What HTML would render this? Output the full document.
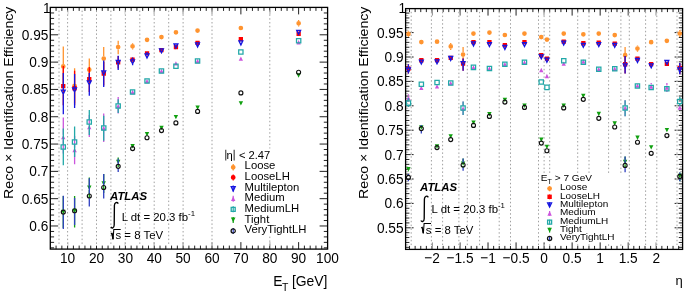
<!DOCTYPE html>
<html><head><meta charset="utf-8"><title>Reco x Identification Efficiency</title>
<style>
html,body{margin:0;padding:0;background:#fff;width:685px;height:294px;overflow:hidden}
svg{display:block;will-change:transform}
svg text{font-family:"Liberation Sans", sans-serif;fill:#000}
</style></head><body>
<svg width="685" height="294" viewBox="0 0 685 294">
<rect x="0" y="0" width="685" height="294" fill="#fff"/>
<path d="M405.60 10.64L408.20 10.64M682.60 10.64L680.00 10.64M405.60 15.52L408.20 15.52M682.60 15.52L680.00 15.52M405.60 20.40L408.20 20.40M682.60 20.40L680.00 20.40M405.60 25.28L408.20 25.28M682.60 25.28L680.00 25.28M405.60 30.16L408.20 30.16M682.60 30.16L680.00 30.16M405.60 35.04L408.20 35.04M682.60 35.04L680.00 35.04M405.60 39.92L408.20 39.92M682.60 39.92L680.00 39.92M405.60 44.80L408.20 44.80M682.60 44.80L680.00 44.80M405.60 49.68L408.20 49.68M682.60 49.68L680.00 49.68M405.60 54.56L408.20 54.56M682.60 54.56L680.00 54.56M405.60 59.44L408.20 59.44M682.60 59.44L680.00 59.44M405.60 64.32L408.20 64.32M682.60 64.32L680.00 64.32M405.60 69.20L408.20 69.20M682.60 69.20L680.00 69.20M405.60 74.08L408.20 74.08M682.60 74.08L680.00 74.08M405.60 78.96L408.20 78.96M682.60 78.96L680.00 78.96M405.60 83.84L408.20 83.84M682.60 83.84L680.00 83.84M405.60 88.72L408.20 88.72M682.60 88.72L680.00 88.72M405.60 93.60L408.20 93.60M682.60 93.60L680.00 93.60M405.60 98.48L408.20 98.48M682.60 98.48L680.00 98.48M405.60 103.36L408.20 103.36M682.60 103.36L680.00 103.36M405.60 108.24L408.20 108.24M682.60 108.24L680.00 108.24M405.60 113.12L408.20 113.12M682.60 113.12L680.00 113.12M405.60 118.00L408.20 118.00M682.60 118.00L680.00 118.00M405.60 122.88L408.20 122.88M682.60 122.88L680.00 122.88M405.60 127.76L408.20 127.76M682.60 127.76L680.00 127.76M405.60 132.64L408.20 132.64M682.60 132.64L680.00 132.64M405.60 137.52L408.20 137.52M682.60 137.52L680.00 137.52M405.60 142.40L408.20 142.40M682.60 142.40L680.00 142.40M405.60 147.28L408.20 147.28M682.60 147.28L680.00 147.28M405.60 152.16L408.20 152.16M682.60 152.16L680.00 152.16M405.60 157.04L408.20 157.04M682.60 157.04L680.00 157.04M405.60 161.92L408.20 161.92M682.60 161.92L680.00 161.92M405.60 166.80L408.20 166.80M682.60 166.80L680.00 166.80M405.60 171.68L408.20 171.68M682.60 171.68L680.00 171.68M405.60 176.56L408.20 176.56M682.60 176.56L680.00 176.56M405.60 181.44L408.20 181.44M682.60 181.44L680.00 181.44M405.60 186.32L408.20 186.32M682.60 186.32L680.00 186.32M405.60 191.20L408.20 191.20M682.60 191.20L680.00 191.20M405.60 196.08L408.20 196.08M682.60 196.08L680.00 196.08M405.60 200.96L408.20 200.96M682.60 200.96L680.00 200.96M405.60 205.84L408.20 205.84M682.60 205.84L680.00 205.84M405.60 210.72L408.20 210.72M682.60 210.72L680.00 210.72M405.60 215.60L408.20 215.60M682.60 215.60L680.00 215.60M405.60 220.48L408.20 220.48M682.60 220.48L680.00 220.48M405.60 225.36L408.20 225.36M682.60 225.36L680.00 225.36M405.60 230.24L408.20 230.24M682.60 230.24L680.00 230.24M405.60 235.12L408.20 235.12M682.60 235.12L680.00 235.12M405.60 240.00L408.20 240.00M682.60 240.00L680.00 240.00M405.60 244.88L408.20 244.88M682.60 244.88L680.00 244.88" stroke="#aaa" stroke-width="0.9" fill="none"/>
<path d="M56.07 249.10L56.07 245.60M56.07 7.40L56.07 10.90M61.85 249.10L61.85 245.60M61.85 7.40L61.85 10.90M67.62 249.10L67.62 242.10M67.62 7.40L67.62 14.40M73.40 249.10L73.40 245.60M73.40 7.40L73.40 10.90M79.17 249.10L79.17 245.60M79.17 7.40L79.17 10.90M84.95 249.10L84.95 245.60M84.95 7.40L84.95 10.90M90.72 249.10L90.72 245.60M90.72 7.40L90.72 10.90M96.50 249.10L96.50 242.10M96.50 7.40L96.50 14.40M102.28 249.10L102.28 245.60M102.28 7.40L102.28 10.90M108.05 249.10L108.05 245.60M108.05 7.40L108.05 10.90M113.83 249.10L113.83 245.60M113.83 7.40L113.83 10.90M119.60 249.10L119.60 245.60M119.60 7.40L119.60 10.90M125.38 249.10L125.38 242.10M125.38 7.40L125.38 14.40M131.15 249.10L131.15 245.60M131.15 7.40L131.15 10.90M136.93 249.10L136.93 245.60M136.93 7.40L136.93 10.90M142.70 249.10L142.70 245.60M142.70 7.40L142.70 10.90M148.48 249.10L148.48 245.60M148.48 7.40L148.48 10.90M154.25 249.10L154.25 242.10M154.25 7.40L154.25 14.40M160.03 249.10L160.03 245.60M160.03 7.40L160.03 10.90M165.80 249.10L165.80 245.60M165.80 7.40L165.80 10.90M171.57 249.10L171.57 245.60M171.57 7.40L171.57 10.90M177.35 249.10L177.35 245.60M177.35 7.40L177.35 10.90M183.12 249.10L183.12 242.10M183.12 7.40L183.12 14.40M188.90 249.10L188.90 245.60M188.90 7.40L188.90 10.90M194.68 249.10L194.68 245.60M194.68 7.40L194.68 10.90M200.45 249.10L200.45 245.60M200.45 7.40L200.45 10.90M206.23 249.10L206.23 245.60M206.23 7.40L206.23 10.90M212.00 249.10L212.00 242.10M212.00 7.40L212.00 14.40M217.78 249.10L217.78 245.60M217.78 7.40L217.78 10.90M223.55 249.10L223.55 245.60M223.55 7.40L223.55 10.90M229.32 249.10L229.32 245.60M229.32 7.40L229.32 10.90M235.10 249.10L235.10 245.60M235.10 7.40L235.10 10.90M240.88 249.10L240.88 242.10M240.88 7.40L240.88 14.40M246.65 249.10L246.65 245.60M246.65 7.40L246.65 10.90M252.43 249.10L252.43 245.60M252.43 7.40L252.43 10.90M258.20 249.10L258.20 245.60M258.20 7.40L258.20 10.90M263.98 249.10L263.98 245.60M263.98 7.40L263.98 10.90M269.75 249.10L269.75 242.10M269.75 7.40L269.75 14.40M275.53 249.10L275.53 245.60M275.53 7.40L275.53 10.90M281.30 249.10L281.30 245.60M281.30 7.40L281.30 10.90M287.07 249.10L287.07 245.60M287.07 7.40L287.07 10.90M292.85 249.10L292.85 245.60M292.85 7.40L292.85 10.90M298.62 249.10L298.62 242.10M298.62 7.40L298.62 14.40M304.40 249.10L304.40 245.60M304.40 7.40L304.40 10.90M310.18 249.10L310.18 245.60M310.18 7.40L310.18 10.90M315.95 249.10L315.95 245.60M315.95 7.40L315.95 10.90M321.73 249.10L321.73 245.60M321.73 7.40L321.73 10.90M50.30 247.83L54.10 247.83M327.60 247.83L323.80 247.83M50.30 242.37L54.10 242.37M327.60 242.37L323.80 242.37M50.30 236.90L54.10 236.90M327.60 236.90L323.80 236.90M50.30 231.44L54.10 231.44M327.60 231.44L323.80 231.44M50.30 225.98L58.30 225.98M327.60 225.98L319.60 225.98M50.30 220.52L54.10 220.52M327.60 220.52L323.80 220.52M50.30 215.06L54.10 215.06M327.60 215.06L323.80 215.06M50.30 209.59L54.10 209.59M327.60 209.59L323.80 209.59M50.30 204.13L54.10 204.13M327.60 204.13L323.80 204.13M50.30 198.67L58.30 198.67M327.60 198.67L319.60 198.67M50.30 193.21L54.10 193.21M327.60 193.21L323.80 193.21M50.30 187.75L54.10 187.75M327.60 187.75L323.80 187.75M50.30 182.28L54.10 182.28M327.60 182.28L323.80 182.28M50.30 176.82L54.10 176.82M327.60 176.82L323.80 176.82M50.30 171.36L58.30 171.36M327.60 171.36L319.60 171.36M50.30 165.90L54.10 165.90M327.60 165.90L323.80 165.90M50.30 160.44L54.10 160.44M327.60 160.44L323.80 160.44M50.30 154.97L54.10 154.97M327.60 154.97L323.80 154.97M50.30 149.51L54.10 149.51M327.60 149.51L323.80 149.51M50.30 144.05L58.30 144.05M327.60 144.05L319.60 144.05M50.30 138.59L54.10 138.59M327.60 138.59L323.80 138.59M50.30 133.13L54.10 133.13M327.60 133.13L323.80 133.13M50.30 127.66L54.10 127.66M327.60 127.66L323.80 127.66M50.30 122.20L54.10 122.20M327.60 122.20L323.80 122.20M50.30 116.74L58.30 116.74M327.60 116.74L319.60 116.74M50.30 111.28L54.10 111.28M327.60 111.28L323.80 111.28M50.30 105.82L54.10 105.82M327.60 105.82L323.80 105.82M50.30 100.35L54.10 100.35M327.60 100.35L323.80 100.35M50.30 94.89L54.10 94.89M327.60 94.89L323.80 94.89M50.30 89.43L58.30 89.43M327.60 89.43L319.60 89.43M50.30 83.97L54.10 83.97M327.60 83.97L323.80 83.97M50.30 78.51L54.10 78.51M327.60 78.51L323.80 78.51M50.30 73.04L54.10 73.04M327.60 73.04L323.80 73.04M50.30 67.58L54.10 67.58M327.60 67.58L323.80 67.58M50.30 62.12L58.30 62.12M327.60 62.12L319.60 62.12M50.30 56.66L54.10 56.66M327.60 56.66L323.80 56.66M50.30 51.20L54.10 51.20M327.60 51.20L323.80 51.20M50.30 45.73L54.10 45.73M327.60 45.73L323.80 45.73M50.30 40.27L54.10 40.27M327.60 40.27L323.80 40.27M50.30 34.81L58.30 34.81M327.60 34.81L319.60 34.81M50.30 29.35L54.10 29.35M327.60 29.35L323.80 29.35M50.30 23.89L54.10 23.89M327.60 23.89L323.80 23.89M50.30 18.42L54.10 18.42M327.60 18.42L323.80 18.42M50.30 12.96L54.10 12.96M327.60 12.96L323.80 12.96M409.53 249.40L409.53 245.90M409.53 8.60L409.53 12.10M415.14 249.40L415.14 245.90M415.14 8.60L415.14 12.10M420.75 249.40L420.75 245.90M420.75 8.60L420.75 12.10M426.35 249.40L426.35 245.90M426.35 8.60L426.35 12.10M431.96 249.40L431.96 242.40M431.96 8.60L431.96 15.60M437.57 249.40L437.57 245.90M437.57 8.60L437.57 12.10M443.17 249.40L443.17 245.90M443.17 8.60L443.17 12.10M448.78 249.40L448.78 245.90M448.78 8.60L448.78 12.10M454.39 249.40L454.39 245.90M454.39 8.60L454.39 12.10M460.00 249.40L460.00 242.40M460.00 8.60L460.00 15.60M465.60 249.40L465.60 245.90M465.60 8.60L465.60 12.10M471.21 249.40L471.21 245.90M471.21 8.60L471.21 12.10M476.82 249.40L476.82 245.90M476.82 8.60L476.82 12.10M482.42 249.40L482.42 245.90M482.42 8.60L482.42 12.10M488.03 249.40L488.03 242.40M488.03 8.60L488.03 15.60M493.64 249.40L493.64 245.90M493.64 8.60L493.64 12.10M499.24 249.40L499.24 245.90M499.24 8.60L499.24 12.10M504.85 249.40L504.85 245.90M504.85 8.60L504.85 12.10M510.46 249.40L510.46 245.90M510.46 8.60L510.46 12.10M516.07 249.40L516.07 242.40M516.07 8.60L516.07 15.60M521.67 249.40L521.67 245.90M521.67 8.60L521.67 12.10M527.28 249.40L527.28 245.90M527.28 8.60L527.28 12.10M532.89 249.40L532.89 245.90M532.89 8.60L532.89 12.10M538.49 249.40L538.49 245.90M538.49 8.60L538.49 12.10M544.10 249.40L544.10 242.40M544.10 8.60L544.10 15.60M549.71 249.40L549.71 245.90M549.71 8.60L549.71 12.10M555.31 249.40L555.31 245.90M555.31 8.60L555.31 12.10M560.92 249.40L560.92 245.90M560.92 8.60L560.92 12.10M566.53 249.40L566.53 245.90M566.53 8.60L566.53 12.10M572.13 249.40L572.13 242.40M572.13 8.60L572.13 15.60M577.74 249.40L577.74 245.90M577.74 8.60L577.74 12.10M583.35 249.40L583.35 245.90M583.35 8.60L583.35 12.10M588.96 249.40L588.96 245.90M588.96 8.60L588.96 12.10M594.56 249.40L594.56 245.90M594.56 8.60L594.56 12.10M600.17 249.40L600.17 242.40M600.17 8.60L600.17 15.60M605.78 249.40L605.78 245.90M605.78 8.60L605.78 12.10M611.38 249.40L611.38 245.90M611.38 8.60L611.38 12.10M616.99 249.40L616.99 245.90M616.99 8.60L616.99 12.10M622.60 249.40L622.60 245.90M622.60 8.60L622.60 12.10M628.21 249.40L628.21 242.40M628.21 8.60L628.21 15.60M633.81 249.40L633.81 245.90M633.81 8.60L633.81 12.10M639.42 249.40L639.42 245.90M639.42 8.60L639.42 12.10M645.03 249.40L645.03 245.90M645.03 8.60L645.03 12.10M650.63 249.40L650.63 245.90M650.63 8.60L650.63 12.10M656.24 249.40L656.24 242.40M656.24 8.60L656.24 15.60M661.85 249.40L661.85 245.90M661.85 8.60L661.85 12.10M667.45 249.40L667.45 245.90M667.45 8.60L667.45 12.10M673.06 249.40L673.06 245.90M673.06 8.60L673.06 12.10M678.67 249.40L678.67 245.90M678.67 8.60L678.67 12.10M405.60 13.08L409.40 13.08M682.60 13.08L678.80 13.08M405.60 17.96L409.40 17.96M682.60 17.96L678.80 17.96M405.60 22.84L409.40 22.84M682.60 22.84L678.80 22.84M405.60 27.72L409.40 27.72M682.60 27.72L678.80 27.72M405.60 32.60L413.60 32.60M682.60 32.60L674.60 32.60M405.60 37.48L409.40 37.48M682.60 37.48L678.80 37.48M405.60 42.36L409.40 42.36M682.60 42.36L678.80 42.36M405.60 47.24L409.40 47.24M682.60 47.24L678.80 47.24M405.60 52.12L409.40 52.12M682.60 52.12L678.80 52.12M405.60 57.00L413.60 57.00M682.60 57.00L674.60 57.00M405.60 61.88L409.40 61.88M682.60 61.88L678.80 61.88M405.60 66.76L409.40 66.76M682.60 66.76L678.80 66.76M405.60 71.64L409.40 71.64M682.60 71.64L678.80 71.64M405.60 76.52L409.40 76.52M682.60 76.52L678.80 76.52M405.60 81.40L413.60 81.40M682.60 81.40L674.60 81.40M405.60 86.28L409.40 86.28M682.60 86.28L678.80 86.28M405.60 91.16L409.40 91.16M682.60 91.16L678.80 91.16M405.60 96.04L409.40 96.04M682.60 96.04L678.80 96.04M405.60 100.92L409.40 100.92M682.60 100.92L678.80 100.92M405.60 105.80L413.60 105.80M682.60 105.80L674.60 105.80M405.60 110.68L409.40 110.68M682.60 110.68L678.80 110.68M405.60 115.56L409.40 115.56M682.60 115.56L678.80 115.56M405.60 120.44L409.40 120.44M682.60 120.44L678.80 120.44M405.60 125.32L409.40 125.32M682.60 125.32L678.80 125.32M405.60 130.20L413.60 130.20M682.60 130.20L674.60 130.20M405.60 135.08L409.40 135.08M682.60 135.08L678.80 135.08M405.60 139.96L409.40 139.96M682.60 139.96L678.80 139.96M405.60 144.84L409.40 144.84M682.60 144.84L678.80 144.84M405.60 149.72L409.40 149.72M682.60 149.72L678.80 149.72M405.60 154.60L413.60 154.60M682.60 154.60L674.60 154.60M405.60 159.48L409.40 159.48M682.60 159.48L678.80 159.48M405.60 164.36L409.40 164.36M682.60 164.36L678.80 164.36M405.60 169.24L409.40 169.24M682.60 169.24L678.80 169.24M405.60 174.12L409.40 174.12M682.60 174.12L678.80 174.12M405.60 179.00L413.60 179.00M682.60 179.00L674.60 179.00M405.60 183.88L409.40 183.88M682.60 183.88L678.80 183.88M405.60 188.76L409.40 188.76M682.60 188.76L678.80 188.76M405.60 193.64L409.40 193.64M682.60 193.64L678.80 193.64M405.60 198.52L409.40 198.52M682.60 198.52L678.80 198.52M405.60 203.40L413.60 203.40M682.60 203.40L674.60 203.40M405.60 208.28L409.40 208.28M682.60 208.28L678.80 208.28M405.60 213.16L409.40 213.16M682.60 213.16L678.80 213.16M405.60 218.04L409.40 218.04M682.60 218.04L678.80 218.04M405.60 222.92L409.40 222.92M682.60 222.92L678.80 222.92M405.60 227.80L413.60 227.80M682.60 227.80L674.60 227.80M405.60 232.68L409.40 232.68M682.60 232.68L678.80 232.68M405.60 237.56L409.40 237.56M682.60 237.56L678.80 237.56M405.60 242.44L409.40 242.44M682.60 242.44L678.80 242.44M405.60 247.32L409.40 247.32M682.60 247.32L678.80 247.32" stroke="#222" stroke-width="1.0" fill="none"/>
<rect x="50.30" y="7.40" width="277.30" height="241.70" fill="none" stroke="#000" stroke-width="1.3"/>
<rect x="405.60" y="8.60" width="277.00" height="240.80" fill="none" stroke="#000" stroke-width="1.3"/>
<path d="M59.0 10.6L59.0 245.7M67.6 10.6L67.6 245.7M82.1 10.6L82.1 245.7M96.5 10.6L96.5 245.7M110.9 10.6L110.9 245.7M125.4 10.6L125.4 245.7M139.8 10.6L139.8 245.7M154.2 10.6L154.2 245.7M168.7 10.6L168.7 245.7M183.1 10.6L183.1 245.7M212.0 10.6L212.0 245.7M269.8 10.6L269.8 148.5M269.8 236.6L269.8 245.7M411.2 11.8L411.2 246.0M431.4 11.8L431.4 246.0M442.6 11.8L442.6 246.0M458.9 11.8L458.9 246.0M467.3 11.8L467.3 246.0M479.6 11.8L479.6 246.0M499.2 11.8L499.2 246.0M510.5 11.8L510.5 246.0M538.5 11.8L538.5 246.0M544.1 11.8L544.1 173.8M544.1 244.3L544.1 246.0M549.7 11.8L549.7 173.8M549.7 244.3L549.7 246.0M577.7 11.8L577.7 173.8M577.7 244.3L577.7 246.0M589.0 11.8L589.0 173.8M589.0 244.3L589.0 246.0M608.6 11.8L608.6 173.8M608.6 244.3L608.6 246.0M620.9 11.8L620.9 173.8M620.9 244.3L620.9 246.0M629.3 11.8L629.3 246.0M645.6 11.8L645.6 246.0M656.8 11.8L656.8 246.0M677.0 11.8L677.0 246.0" stroke="#fff" stroke-width="1.0" fill="none"/>
<path d="M59.0 10.6L59.0 245.7M67.6 10.6L67.6 245.7M82.1 10.6L82.1 245.7M96.5 10.6L96.5 245.7M110.9 10.6L110.9 245.7M125.4 10.6L125.4 245.7M139.8 10.6L139.8 245.7M154.2 10.6L154.2 245.7M168.7 10.6L168.7 245.7M183.1 10.6L183.1 245.7M212.0 10.6L212.0 245.7M269.8 10.6L269.8 148.5M269.8 236.6L269.8 245.7M411.2 11.8L411.2 246.0M431.4 11.8L431.4 246.0M442.6 11.8L442.6 246.0M458.9 11.8L458.9 246.0M467.3 11.8L467.3 246.0M479.6 11.8L479.6 246.0M499.2 11.8L499.2 246.0M510.5 11.8L510.5 246.0M538.5 11.8L538.5 246.0M544.1 11.8L544.1 173.8M544.1 244.3L544.1 246.0M549.7 11.8L549.7 173.8M549.7 244.3L549.7 246.0M577.7 11.8L577.7 173.8M577.7 244.3L577.7 246.0M589.0 11.8L589.0 173.8M589.0 244.3L589.0 246.0M608.6 11.8L608.6 173.8M608.6 244.3L608.6 246.0M620.9 11.8L620.9 173.8M620.9 244.3L620.9 246.0M629.3 11.8L629.3 246.0M645.6 11.8L645.6 246.0M656.8 11.8L656.8 246.0M677.0 11.8L677.0 246.0" stroke="#a0a0a0" stroke-width="1.0" fill="none" stroke-dasharray="1.5 2.3"/>
<path d="M63.3 46.4L63.3 64.1M63.3 68.7L63.3 86.4M74.6 68.3L74.6 83.5M74.6 88.1L74.6 103.3M89.3 58.6L89.3 67.4M89.3 72.0L89.3 80.8M103.7 47.1L103.7 56.3M103.7 60.9L103.7 70.0M118.2 40.7L118.2 44.8M118.2 49.4L118.2 54.3M132.6 43.2L132.6 44.0M132.6 48.6L132.6 49.4M298.6 20.0L298.6 21.0M298.6 25.6L298.6 26.6" stroke="#ff9430" stroke-width="1.3" fill="none"/>
<path d="M60.9 66.4a2.35 2.35 0 1 0 4.70 0a2.35 2.35 0 1 0 -4.70 0M72.2 85.8a2.35 2.35 0 1 0 4.70 0a2.35 2.35 0 1 0 -4.70 0M86.9 69.7a2.35 2.35 0 1 0 4.70 0a2.35 2.35 0 1 0 -4.70 0M101.4 58.6a2.35 2.35 0 1 0 4.70 0a2.35 2.35 0 1 0 -4.70 0M115.8 47.1a2.35 2.35 0 1 0 4.70 0a2.35 2.35 0 1 0 -4.70 0M130.2 46.3a2.35 2.35 0 1 0 4.70 0a2.35 2.35 0 1 0 -4.70 0M144.7 39.8a2.35 2.35 0 1 0 4.70 0a2.35 2.35 0 1 0 -4.70 0M159.1 37.1a2.35 2.35 0 1 0 4.70 0a2.35 2.35 0 1 0 -4.70 0M173.6 32.3a2.35 2.35 0 1 0 4.70 0a2.35 2.35 0 1 0 -4.70 0M195.2 30.6a2.35 2.35 0 1 0 4.70 0a2.35 2.35 0 1 0 -4.70 0M238.5 28.0a2.35 2.35 0 1 0 4.70 0a2.35 2.35 0 1 0 -4.70 0M296.3 23.3a2.35 2.35 0 1 0 4.70 0a2.35 2.35 0 1 0 -4.70 0" fill="#ff9430"/>
<path d="M63.3 66.0L63.3 83.8M63.3 88.4L63.3 105.3M74.6 70.7L74.6 86.0M74.6 90.6L74.6 105.3M89.3 67.1L89.3 77.0M89.3 81.6L89.3 92.1M103.7 62.0L103.7 71.4M103.7 76.0L103.7 85.5M118.2 56.0L118.2 60.0M118.2 64.6L118.2 68.5M132.6 57.1L132.6 57.2M132.6 61.8L132.6 62.0" stroke="#ff0000" stroke-width="1.3" fill="none"/>
<path d="M61.1 83.9h4.3v4.3h-4.3zM72.4 86.1h4.3v4.3h-4.3zM87.1 77.1h4.3v4.3h-4.3zM101.6 71.5h4.3v4.3h-4.3zM116.0 60.1h4.3v4.3h-4.3zM130.4 57.4h4.3v4.3h-4.3zM144.9 51.2h4.3v4.3h-4.3zM159.3 47.9h4.3v4.3h-4.3zM173.8 45.0h4.3v4.3h-4.3zM195.4 40.8h4.3v4.3h-4.3zM238.7 37.0h4.3v4.3h-4.3zM296.5 31.6h4.3v4.3h-4.3z" fill="#ff0000"/>
<path d="M63.3 72.9L63.3 89.8M63.3 94.4L63.3 114.3M74.6 74.0L74.6 87.7M74.6 92.3L74.6 107.9M89.3 72.9L89.3 80.6M89.3 85.2L89.3 95.7M103.7 60.6L103.7 70.6M103.7 75.2L103.7 87.0M118.2 55.7L118.2 60.2M118.2 64.8L118.2 70.0M132.6 57.5L132.6 59.5M132.6 64.1L132.6 65.3M147.0 52.0L147.0 53.7" stroke="#1515e0" stroke-width="1.3" fill="none"/>
<path d="M61.3 90.1L65.2 90.1L63.3 94.0zM72.6 88.0L76.5 88.0L74.6 92.0zM87.3 81.0L91.2 81.0L89.3 84.9zM101.8 71.0L105.7 71.0L103.7 74.9zM116.2 60.5L120.1 60.5L118.2 64.5zM130.6 59.8L134.5 59.8L132.6 63.8zM145.1 54.0L149.0 54.0L147.0 58.0zM159.5 48.8L163.4 48.8L161.5 52.7zM174.0 44.0L177.9 44.0L175.9 48.0zM195.6 42.9L199.5 42.9L197.6 46.9zM238.9 40.9L242.8 40.9L240.9 44.9zM296.7 30.3L300.6 30.3L298.6 34.2z" fill="none" stroke="#1515e0" stroke-width="1.3"/>
<path d="M63.3 117.6L63.3 134.8M63.3 139.4L63.3 153.6M74.6 136.0L74.6 147.7M74.6 152.3L74.6 164.3M89.3 115.0L89.3 124.8M89.3 129.4L89.3 137.1M103.7 113.6L103.7 125.7M103.7 130.3L103.7 142.0M118.2 97.1L118.2 103.8M118.2 108.4L118.2 113.5" stroke="#cc55dd" stroke-width="1.3" fill="none"/>
<path d="M61.1 139.3L65.4 139.3L63.3 134.9zM72.4 152.2L76.8 152.2L74.6 147.8zM87.1 129.3L91.4 129.3L89.3 124.9zM101.6 130.2L105.9 130.2L103.7 125.8zM116.0 108.3L120.3 108.3L118.2 103.9zM130.4 94.2L134.7 94.2L132.6 89.8zM144.9 83.3L149.2 83.3L147.0 78.9zM159.3 73.2L163.6 73.2L161.5 68.8zM173.8 65.6L178.1 65.6L175.9 61.2zM195.4 63.2L199.7 63.2L197.6 58.8zM238.7 60.8L243.0 60.8L240.9 56.4zM296.5 44.5L300.8 44.5L298.6 40.1z" fill="#cc55dd"/>
<path d="M63.3 128.6L63.3 144.8M63.3 149.4L63.3 165.3M74.6 126.4L74.6 139.6M74.6 144.2L74.6 157.1M89.3 110.0L89.3 119.8M89.3 124.4L89.3 135.0M103.7 115.7L103.7 125.7M103.7 130.3L103.7 140.7M118.2 99.3L118.2 103.8M118.2 108.4L118.2 112.9" stroke="#22a8a8" stroke-width="1.3" fill="none"/>
<path d="M61.1 144.9h4.3v4.3h-4.3zM72.4 139.8h4.3v4.3h-4.3zM87.1 119.9h4.3v4.3h-4.3zM101.6 125.8h4.3v4.3h-4.3zM116.0 103.9h4.3v4.3h-4.3zM130.4 89.8h4.3v4.3h-4.3zM144.9 78.8h4.3v4.3h-4.3zM159.3 68.9h4.3v4.3h-4.3zM173.8 64.1h4.3v4.3h-4.3zM195.4 58.8h4.3v4.3h-4.3zM238.7 49.9h4.3v4.3h-4.3zM296.5 38.5h4.3v4.3h-4.3z" fill="none" stroke="#22a8a8" stroke-width="1.25"/>
<path d="M63.3 196.0L63.3 209.7M63.3 214.3L63.3 227.9M74.6 196.0L74.6 208.7M74.6 213.3L74.6 227.4M89.3 177.6L89.3 185.4M89.3 190.0L89.3 198.0M103.7 174.0L103.7 181.2M103.7 185.8L103.7 193.0M118.2 157.5L118.2 159.7M118.2 164.3L118.2 167.0" stroke="#10a010" stroke-width="1.3" fill="none"/>
<path d="M61.1 209.8L65.5 209.8L63.3 214.2zM72.4 208.8L76.8 208.8L74.6 213.2zM87.1 185.5L91.5 185.5L89.3 189.9zM101.5 181.3L105.9 181.3L103.7 185.7zM116.0 159.8L120.4 159.8L118.2 164.2zM130.4 144.1L134.8 144.1L132.6 148.5zM144.8 132.1L149.2 132.1L147.0 136.5zM159.3 125.8L163.7 125.8L161.5 130.2zM173.7 114.9L178.1 114.9L175.9 119.3zM195.4 105.5L199.8 105.5L197.6 109.9zM238.7 101.2L243.1 101.2L240.9 105.6zM296.4 73.3L300.8 73.3L298.6 77.7z" fill="#10a010"/>
<path d="M63.3 195.7L63.3 209.8M63.3 214.4L63.3 228.9M74.6 197.9L74.6 208.4M74.6 213.0L74.6 225.0M89.3 178.2L89.3 193.7M89.3 198.3L89.3 206.4M103.7 174.0L103.7 185.2M103.7 189.8L103.7 198.6M118.2 158.8L118.2 164.0M118.2 168.6L118.2 172.1" stroke="#3040c0" stroke-width="1.3" fill="none"/>
<path d="M61.3 212.1a2.00 2.00 0 1 0 4.00 0a2.00 2.00 0 1 0 -4.00 0M72.6 210.7a2.00 2.00 0 1 0 4.00 0a2.00 2.00 0 1 0 -4.00 0M87.3 196.0a2.00 2.00 0 1 0 4.00 0a2.00 2.00 0 1 0 -4.00 0M101.7 187.5a2.00 2.00 0 1 0 4.00 0a2.00 2.00 0 1 0 -4.00 0M116.2 166.3a2.00 2.00 0 1 0 4.00 0a2.00 2.00 0 1 0 -4.00 0M130.6 148.6a2.00 2.00 0 1 0 4.00 0a2.00 2.00 0 1 0 -4.00 0M145.0 137.7a2.00 2.00 0 1 0 4.00 0a2.00 2.00 0 1 0 -4.00 0M159.5 130.6a2.00 2.00 0 1 0 4.00 0a2.00 2.00 0 1 0 -4.00 0M173.9 122.9a2.00 2.00 0 1 0 4.00 0a2.00 2.00 0 1 0 -4.00 0M195.6 111.4a2.00 2.00 0 1 0 4.00 0a2.00 2.00 0 1 0 -4.00 0M238.9 92.9a2.00 2.00 0 1 0 4.00 0a2.00 2.00 0 1 0 -4.00 0M296.6 72.2a2.00 2.00 0 1 0 4.00 0a2.00 2.00 0 1 0 -4.00 0" fill="none" stroke="#111111" stroke-width="1.15"/>
<path d="M408.4 30.7L408.4 31.6M408.4 36.2L408.4 37.1M450.7 42.9L450.7 44.1M450.7 48.7L450.7 50.0M463.1 47.1L463.1 52.3M463.1 56.9L463.1 62.0M625.1 46.9L625.1 52.9M625.1 57.5L625.1 63.5M637.5 45.5L637.5 46.3M637.5 50.9L637.5 51.7M679.8 30.0L679.8 31.2M679.8 35.8L679.8 37.0" stroke="#ff9430" stroke-width="1.3" fill="none"/>
<path d="M406.1 33.9a2.35 2.35 0 1 0 4.70 0a2.35 2.35 0 1 0 -4.70 0M419.0 42.1a2.35 2.35 0 1 0 4.70 0a2.35 2.35 0 1 0 -4.70 0M434.7 41.7a2.35 2.35 0 1 0 4.70 0a2.35 2.35 0 1 0 -4.70 0M448.4 46.4a2.35 2.35 0 1 0 4.70 0a2.35 2.35 0 1 0 -4.70 0M460.7 54.6a2.35 2.35 0 1 0 4.70 0a2.35 2.35 0 1 0 -4.70 0M471.1 33.6a2.35 2.35 0 1 0 4.70 0a2.35 2.35 0 1 0 -4.70 0M487.1 32.6a2.35 2.35 0 1 0 4.70 0a2.35 2.35 0 1 0 -4.70 0M502.5 35.0a2.35 2.35 0 1 0 4.70 0a2.35 2.35 0 1 0 -4.70 0M522.1 33.6a2.35 2.35 0 1 0 4.70 0a2.35 2.35 0 1 0 -4.70 0M538.9 37.1a2.35 2.35 0 1 0 4.70 0a2.35 2.35 0 1 0 -4.70 0M544.6 39.6a2.35 2.35 0 1 0 4.70 0a2.35 2.35 0 1 0 -4.70 0M561.4 33.6a2.35 2.35 0 1 0 4.70 0a2.35 2.35 0 1 0 -4.70 0M581.0 34.3a2.35 2.35 0 1 0 4.70 0a2.35 2.35 0 1 0 -4.70 0M596.4 33.6a2.35 2.35 0 1 0 4.70 0a2.35 2.35 0 1 0 -4.70 0M612.4 35.1a2.35 2.35 0 1 0 4.70 0a2.35 2.35 0 1 0 -4.70 0M622.8 55.2a2.35 2.35 0 1 0 4.70 0a2.35 2.35 0 1 0 -4.70 0M635.1 48.6a2.35 2.35 0 1 0 4.70 0a2.35 2.35 0 1 0 -4.70 0M648.8 42.2a2.35 2.35 0 1 0 4.70 0a2.35 2.35 0 1 0 -4.70 0M664.5 40.8a2.35 2.35 0 1 0 4.70 0a2.35 2.35 0 1 0 -4.70 0M677.4 33.5a2.35 2.35 0 1 0 4.70 0a2.35 2.35 0 1 0 -4.70 0" fill="#ff9430"/>
<path d="M408.4 64.3L408.4 66.3M408.4 70.9L408.4 73.6M463.1 58.6L463.1 61.3M463.1 65.9L463.1 70.7M625.1 56.0L625.1 61.9M625.1 66.5L625.1 73.4M679.8 63.0L679.8 65.7M679.8 70.3L679.8 74.3" stroke="#ff0000" stroke-width="1.3" fill="none"/>
<path d="M406.3 66.4h4.3v4.3h-4.3zM419.2 58.1h4.3v4.3h-4.3zM434.9 57.9h4.3v4.3h-4.3zM448.6 55.8h4.3v4.3h-4.3zM460.9 61.5h4.3v4.3h-4.3zM471.3 39.9h4.3v4.3h-4.3zM487.3 40.0h4.3v4.3h-4.3zM502.7 42.9h4.3v4.3h-4.3zM522.3 40.0h4.3v4.3h-4.3zM539.1 52.9h4.3v4.3h-4.3zM544.8 56.5h4.3v4.3h-4.3zM561.6 39.4h4.3v4.3h-4.3zM581.2 41.1h4.3v4.3h-4.3zM596.6 40.4h4.3v4.3h-4.3zM612.6 41.4h4.3v4.3h-4.3zM623.0 62.1h4.3v4.3h-4.3zM635.3 56.4h4.3v4.3h-4.3zM649.0 61.9h4.3v4.3h-4.3zM664.7 61.8h4.3v4.3h-4.3zM677.6 65.8h4.3v4.3h-4.3z" fill="#ff0000"/>
<path d="M408.4 64.3L408.4 67.7M408.4 72.3L408.4 73.6M463.1 58.6L463.1 61.3M463.1 65.9L463.1 70.7M625.1 56.0L625.1 63.4M625.1 68.0L625.1 73.4M679.8 63.0L679.8 67.4M679.8 72.0L679.8 74.3" stroke="#1515e0" stroke-width="1.3" fill="none"/>
<path d="M406.5 68.0L410.4 68.0L408.4 72.0zM419.4 60.1L423.3 60.1L421.3 64.0zM435.1 59.8L439.0 59.8L437.0 63.7zM448.8 56.4L452.7 56.4L450.7 60.4zM461.1 61.6L465.0 61.6L463.1 65.5zM471.5 41.9L475.4 41.9L473.5 45.9zM487.5 42.6L491.4 42.6L489.4 46.6zM502.9 45.4L506.8 45.4L504.9 49.4zM522.5 42.6L526.4 42.6L524.5 46.6zM539.3 54.8L543.2 54.8L541.3 58.8zM545.0 58.2L548.9 58.2L546.9 62.2zM561.8 41.1L565.7 41.1L563.7 45.1zM581.4 43.3L585.3 43.3L583.3 47.2zM596.8 42.6L600.7 42.6L598.8 46.6zM612.8 43.3L616.7 43.3L614.7 47.2zM623.2 63.8L627.1 63.8L625.1 67.7zM635.5 58.5L639.4 58.5L637.5 62.5zM649.2 63.8L653.1 63.8L651.2 67.7zM664.9 60.3L668.8 60.3L666.9 64.2zM677.8 67.8L681.7 67.8L679.8 71.7z" fill="none" stroke="#1515e0" stroke-width="1.3"/>
<path d="M408.4 94.3L408.4 95.6M408.4 100.2L408.4 101.5M463.1 101.4L463.1 106.3M463.1 110.9L463.1 115.0M625.1 100.3L625.1 105.6M625.1 110.2L625.1 116.2M651.2 83.0L651.2 84.2M651.2 88.8L651.2 90.0M666.9 83.0L666.9 85.2M666.9 89.8L666.9 92.0" stroke="#cc55dd" stroke-width="1.3" fill="none"/>
<path d="M406.3 100.1L410.6 100.1L408.4 95.7zM419.2 90.1L423.5 90.1L421.3 85.7zM434.9 88.6L439.2 88.6L437.0 84.2zM448.6 85.3L452.9 85.3L450.7 80.9zM460.9 110.8L465.2 110.8L463.1 106.4zM471.3 69.6L475.6 69.6L473.5 65.2zM487.3 70.8L491.6 70.8L489.4 66.4zM502.7 66.5L507.0 66.5L504.9 62.1zM522.3 64.7L526.6 64.7L524.5 60.3zM539.1 72.2L543.4 72.2L541.3 67.8zM544.8 78.2L549.1 78.2L546.9 73.8zM561.6 65.8L565.9 65.8L563.7 61.4zM581.2 63.7L585.5 63.7L583.3 59.3zM596.6 71.5L600.9 71.5L598.8 67.1zM612.6 70.9L616.9 70.9L614.7 66.5zM623.0 110.1L627.3 110.1L625.1 105.7zM635.3 87.8L639.6 87.8L637.5 83.4zM649.0 88.7L653.3 88.7L651.2 84.3zM664.7 89.7L669.0 89.7L666.9 85.3zM677.6 109.7L681.9 109.7L679.8 105.3z" fill="#cc55dd"/>
<path d="M408.4 98.0L408.4 100.6M408.4 105.2L408.4 107.1M463.1 101.4L463.1 105.6M463.1 110.2L463.1 115.0M625.1 100.3L625.1 105.6M625.1 110.2L625.1 116.2M679.8 97.0L679.8 99.2M679.8 103.8L679.8 106.0" stroke="#22a8a8" stroke-width="1.3" fill="none"/>
<path d="M406.3 100.8h4.3v4.3h-4.3zM419.2 82.1h4.3v4.3h-4.3zM434.9 80.4h4.3v4.3h-4.3zM448.6 80.8h4.3v4.3h-4.3zM460.9 105.8h4.3v4.3h-4.3zM471.3 65.2h4.3v4.3h-4.3zM487.3 66.4h4.3v4.3h-4.3zM502.7 62.1h4.3v4.3h-4.3zM522.3 60.0h4.3v4.3h-4.3zM539.1 79.9h4.3v4.3h-4.3zM544.8 85.2h4.3v4.3h-4.3zM561.6 58.6h4.3v4.3h-4.3zM581.2 60.0h4.3v4.3h-4.3zM596.6 67.1h4.3v4.3h-4.3zM612.6 66.5h4.3v4.3h-4.3zM623.0 105.8h4.3v4.3h-4.3zM635.3 83.8h4.3v4.3h-4.3zM649.0 85.3h4.3v4.3h-4.3zM664.7 86.6h4.3v4.3h-4.3zM677.6 99.3h4.3v4.3h-4.3z" fill="none" stroke="#22a8a8" stroke-width="1.25"/>
<path d="M408.4 166.9L408.4 167.0M408.4 171.6L408.4 171.7M463.1 158.6L463.1 161.3M463.1 165.9L463.1 168.0M625.1 156.4L625.1 159.7M625.1 164.3L625.1 167.5M679.8 172.5L679.8 173.7M679.8 178.3L679.8 181.2" stroke="#10a010" stroke-width="1.3" fill="none"/>
<path d="M406.2 167.1L410.6 167.1L408.4 171.5zM419.1 125.3L423.5 125.3L421.3 129.7zM434.8 144.3L439.2 144.3L437.0 148.7zM448.5 134.2L452.9 134.2L450.7 138.6zM460.9 161.4L465.3 161.4L463.1 165.8zM471.3 120.4L475.7 120.4L473.5 124.8zM487.2 112.1L491.6 112.1L489.4 116.5zM502.7 97.8L507.1 97.8L504.9 102.2zM522.3 103.5L526.7 103.5L524.5 107.9zM539.1 137.5L543.5 137.5L541.3 141.9zM544.7 144.7L549.1 144.7L546.9 149.1zM561.5 103.5L565.9 103.5L563.7 107.9zM581.1 93.8L585.5 93.8L583.3 98.2zM596.6 111.8L601.0 111.8L598.8 116.2zM612.5 121.3L616.9 121.3L614.7 125.7zM622.9 159.8L627.3 159.8L625.1 164.2zM635.3 135.5L639.7 135.5L637.5 139.9zM649.0 145.2L653.4 145.2L651.2 149.6zM664.7 127.9L669.1 127.9L666.9 132.3zM677.6 173.8L682.0 173.8L679.8 178.2z" fill="#10a010"/>
<path d="M408.4 174.0L408.4 175.1M408.4 179.7L408.4 181.2M421.3 125.0L421.3 126.3M421.3 130.9L421.3 133.6M463.1 158.6L463.1 162.7M463.1 167.3L463.1 170.7M625.1 156.5L625.1 163.1M625.1 167.7L625.1 172.2M679.8 172.5L679.8 174.1M679.8 178.7L679.8 181.2" stroke="#3040c0" stroke-width="1.3" fill="none"/>
<path d="M406.4 177.4a2.00 2.00 0 1 0 4.00 0a2.00 2.00 0 1 0 -4.00 0M419.3 128.6a2.00 2.00 0 1 0 4.00 0a2.00 2.00 0 1 0 -4.00 0M435.0 147.6a2.00 2.00 0 1 0 4.00 0a2.00 2.00 0 1 0 -4.00 0M448.7 139.6a2.00 2.00 0 1 0 4.00 0a2.00 2.00 0 1 0 -4.00 0M461.1 165.0a2.00 2.00 0 1 0 4.00 0a2.00 2.00 0 1 0 -4.00 0M471.5 125.4a2.00 2.00 0 1 0 4.00 0a2.00 2.00 0 1 0 -4.00 0M487.4 116.4a2.00 2.00 0 1 0 4.00 0a2.00 2.00 0 1 0 -4.00 0M502.9 102.1a2.00 2.00 0 1 0 4.00 0a2.00 2.00 0 1 0 -4.00 0M522.5 107.4a2.00 2.00 0 1 0 4.00 0a2.00 2.00 0 1 0 -4.00 0M539.3 143.1a2.00 2.00 0 1 0 4.00 0a2.00 2.00 0 1 0 -4.00 0M544.9 150.7a2.00 2.00 0 1 0 4.00 0a2.00 2.00 0 1 0 -4.00 0M561.7 107.9a2.00 2.00 0 1 0 4.00 0a2.00 2.00 0 1 0 -4.00 0M581.3 99.3a2.00 2.00 0 1 0 4.00 0a2.00 2.00 0 1 0 -4.00 0M596.8 118.3a2.00 2.00 0 1 0 4.00 0a2.00 2.00 0 1 0 -4.00 0M612.7 127.0a2.00 2.00 0 1 0 4.00 0a2.00 2.00 0 1 0 -4.00 0M623.1 165.4a2.00 2.00 0 1 0 4.00 0a2.00 2.00 0 1 0 -4.00 0M635.5 142.2a2.00 2.00 0 1 0 4.00 0a2.00 2.00 0 1 0 -4.00 0M649.2 153.3a2.00 2.00 0 1 0 4.00 0a2.00 2.00 0 1 0 -4.00 0M664.9 135.6a2.00 2.00 0 1 0 4.00 0a2.00 2.00 0 1 0 -4.00 0M677.8 176.4a2.00 2.00 0 1 0 4.00 0a2.00 2.00 0 1 0 -4.00 0" fill="none" stroke="#111111" stroke-width="1.15"/>
<text transform="translate(67.62,262.70) scale(1.0,1.1)" font-size="13.7" text-anchor="middle" >10</text>
<text transform="translate(96.50,262.70) scale(1.0,1.1)" font-size="13.7" text-anchor="middle" >20</text>
<text transform="translate(125.38,262.70) scale(1.0,1.1)" font-size="13.7" text-anchor="middle" >30</text>
<text transform="translate(154.25,262.70) scale(1.0,1.1)" font-size="13.7" text-anchor="middle" >40</text>
<text transform="translate(183.12,262.70) scale(1.0,1.1)" font-size="13.7" text-anchor="middle" >50</text>
<text transform="translate(212.00,262.70) scale(1.0,1.1)" font-size="13.7" text-anchor="middle" >60</text>
<text transform="translate(240.88,262.70) scale(1.0,1.1)" font-size="13.7" text-anchor="middle" >70</text>
<text transform="translate(269.75,262.70) scale(1.0,1.1)" font-size="13.7" text-anchor="middle" >80</text>
<text transform="translate(298.62,262.70) scale(1.0,1.1)" font-size="13.7" text-anchor="middle" >90</text>
<text transform="translate(327.50,262.70) scale(1.0,1.1)" font-size="13.7" text-anchor="middle" >100</text>
<text transform="translate(431.96,262.70) scale(1.0,1.1)" font-size="13.7" text-anchor="middle" >−2</text>
<text transform="translate(460.00,262.70) scale(1.0,1.1)" font-size="13.7" text-anchor="middle" >−1.5</text>
<text transform="translate(488.03,262.70) scale(1.0,1.1)" font-size="13.7" text-anchor="middle" >−1</text>
<text transform="translate(516.07,262.70) scale(1.0,1.1)" font-size="13.7" text-anchor="middle" >−0.5</text>
<text transform="translate(544.10,262.70) scale(1.0,1.1)" font-size="13.7" text-anchor="middle" >0</text>
<text transform="translate(572.13,262.70) scale(1.0,1.1)" font-size="13.7" text-anchor="middle" >0.5</text>
<text transform="translate(600.17,262.70) scale(1.0,1.1)" font-size="13.7" text-anchor="middle" >1</text>
<text transform="translate(628.21,262.70) scale(1.0,1.1)" font-size="13.7" text-anchor="middle" >1.5</text>
<text transform="translate(656.24,262.70) scale(1.0,1.1)" font-size="13.7" text-anchor="middle" >2</text>
<text transform="translate(48.40,230.98) scale(1.0,1.12)" font-size="13.7" text-anchor="end" >0.6</text>
<text transform="translate(48.40,203.67) scale(1.0,1.12)" font-size="13.7" text-anchor="end" >0.65</text>
<text transform="translate(48.40,176.36) scale(1.0,1.12)" font-size="13.7" text-anchor="end" >0.7</text>
<text transform="translate(48.40,149.05) scale(1.0,1.12)" font-size="13.7" text-anchor="end" >0.75</text>
<text transform="translate(48.40,121.74) scale(1.0,1.12)" font-size="13.7" text-anchor="end" >0.8</text>
<text transform="translate(48.40,94.43) scale(1.0,1.12)" font-size="13.7" text-anchor="end" >0.85</text>
<text transform="translate(48.40,67.12) scale(1.0,1.12)" font-size="13.7" text-anchor="end" >0.9</text>
<text transform="translate(48.40,39.81) scale(1.0,1.12)" font-size="13.7" text-anchor="end" >0.95</text>
<text transform="translate(50.50,12.50) scale(1.0,1.12)" font-size="13.7" text-anchor="end" >1</text>
<text transform="translate(403.60,232.80) scale(1.0,1.12)" font-size="13.7" text-anchor="end" >0.55</text>
<text transform="translate(403.60,208.40) scale(1.0,1.12)" font-size="13.7" text-anchor="end" >0.6</text>
<text transform="translate(403.60,184.00) scale(1.0,1.12)" font-size="13.7" text-anchor="end" >0.65</text>
<text transform="translate(403.60,159.60) scale(1.0,1.12)" font-size="13.7" text-anchor="end" >0.7</text>
<text transform="translate(403.60,135.20) scale(1.0,1.12)" font-size="13.7" text-anchor="end" >0.75</text>
<text transform="translate(403.60,110.80) scale(1.0,1.12)" font-size="13.7" text-anchor="end" >0.8</text>
<text transform="translate(403.60,86.40) scale(1.0,1.12)" font-size="13.7" text-anchor="end" >0.85</text>
<text transform="translate(403.60,62.00) scale(1.0,1.12)" font-size="13.7" text-anchor="end" >0.9</text>
<text transform="translate(403.60,37.60) scale(1.0,1.12)" font-size="13.7" text-anchor="end" >0.95</text>
<text transform="translate(406.20,13.20) scale(1.0,1.12)" font-size="13.7" text-anchor="end" >1</text>
<text transform="translate(12.9,198.9) rotate(-90)" font-size="13.4" textLength="192.3" lengthAdjust="spacingAndGlyphs">Reco × Identification Efficiency</text>
<text transform="translate(368.4,198.9) rotate(-90)" font-size="13.4" textLength="192.3" lengthAdjust="spacingAndGlyphs">Reco × Identification Efficiency</text>
<text x="273.2" y="285.8" font-size="13.9">E</text>
<text x="282.0" y="290.7" font-size="10.4">T</text>
<text x="291.9" y="285.8" font-size="13.9">[GeV]</text>
<text x="682.8" y="284.6" font-size="13" text-anchor="end">η</text>
<text x="110.0" y="199.7" font-size="11.4" font-weight="bold" font-style="italic">ATLAS</text>
<path d="M118.30 203.70C117.10 201.70 114.50 202.50 114.40 205.30L114.20 225.10C114.10 228.10 111.80 228.70 110.90 226.90" fill="none" stroke="#000" stroke-width="1.35"/>
<text x="121.7" y="220.8" font-size="11.4">L dt = 20.3 fb<tspan font-size="7.8" dy="-4.8">-1</tspan></text>
<path d="M110.80 233.80L111.90 233.20L113.05 239.40L113.80 229.40L120.70 229.40" fill="none" stroke="#000" stroke-width="1.05" stroke-linejoin="miter"/>
<path d="M112.10 233.40L113.05 239.10" stroke="#000" stroke-width="1.5"/>
<text x="115.50" y="239.4" font-size="11.4">s = 8 TeV</text>
<text x="420.0" y="190.6" font-size="11.4" font-weight="bold" font-style="italic">ATLAS</text>
<path d="M428.30 197.30C427.10 195.30 424.50 196.10 424.40 198.90L424.20 218.70C424.10 221.70 421.80 222.30 420.90 220.50" fill="none" stroke="#000" stroke-width="1.35"/>
<text x="431.6" y="212.8" font-size="11.4">L dt = 20.3 fb<tspan font-size="7.8" dy="-4.8">-1</tspan></text>
<path d="M421.10 227.90L422.20 227.30L423.35 233.50L424.10 223.50L431.00 223.50" fill="none" stroke="#000" stroke-width="1.05" stroke-linejoin="miter"/>
<path d="M422.40 227.50L423.35 233.20" stroke="#000" stroke-width="1.5"/>
<text x="425.80" y="233.5" font-size="11.4">s = 8 TeV</text>
<path d="M225.7 149.8L225.7 160.6M234.2 149.8L234.2 160.6" stroke="#666" stroke-width="1.4" fill="none"/>
<text x="226.6" y="158.8" font-size="11.2">η</text>
<text x="238.9" y="158.8" font-size="11.2">&lt; 2.47</text>
<text x="244.60" y="169.20" font-size="11.3" >Loose</text>
<text x="244.60" y="179.90" font-size="11.3" >LooseLH</text>
<text x="244.60" y="190.60" font-size="11.3" >Multilepton</text>
<text x="244.60" y="201.30" font-size="11.3" >Medium</text>
<text x="244.60" y="212.00" font-size="11.3" >MediumLH</text>
<text x="244.60" y="222.70" font-size="11.3" >Tight</text>
<text x="244.60" y="233.40" font-size="11.3" >VeryTightLH</text>
<path d="M233.2 164.0L233.2 170.6" stroke="#ff9430" stroke-width="1.2" fill="none"/>
<path d="M230.8 167.3a2.40 2.40 0 1 0 4.80 0a2.40 2.40 0 1 0 -4.80 0" fill="#ff9430"/>
<path d="M233.2 174.4L233.2 180.4" stroke="#ff0000" stroke-width="1.2" fill="none"/>
<path d="M230.8 177.4a2.40 2.40 0 1 0 4.80 0a2.40 2.40 0 1 0 -4.80 0" fill="#ff0000"/>
<path d="M233.2 185.5L233.2 191.5" stroke="#1515e0" stroke-width="1.2" fill="none"/>
<path d="M231.2 186.7L235.2 186.7L233.2 190.9z" fill="none" stroke="#1515e0" stroke-width="1.3"/>
<path d="M233.2 195.8L233.2 201.8" stroke="#cc55dd" stroke-width="1.2" fill="none"/>
<path d="M231.0 201.1L235.4 201.1L233.2 196.5z" fill="#cc55dd"/>
<path d="M233.2 206.3L233.2 212.3" stroke="#22a8a8" stroke-width="1.2" fill="none"/>
<path d="M231.2 207.3h4.0v4.0h-4.0z" fill="none" stroke="#22a8a8" stroke-width="1.3"/>
<path d="M233.2 216.9L233.2 222.9" stroke="#10a010" stroke-width="1.2" fill="none"/>
<path d="M230.9 217.6L235.5 217.6L233.2 222.2z" fill="#10a010"/>
<path d="M233.2 227.9L233.2 233.9" stroke="#3040c0" stroke-width="1.2" fill="none"/>
<path d="M231.1 230.9a2.10 2.10 0 1 0 4.20 0a2.10 2.10 0 1 0 -4.20 0" fill="none" stroke="#111111" stroke-width="1.25"/>
<text transform="translate(540.8,181.4) scale(1,0.9)" font-size="10.1">E<tspan font-size="7.2" dy="2.6">T</tspan><tspan dy="-2.6"> &gt; 7 GeV</tspan></text>
<text transform="translate(560.00,190.40) scale(1.0,0.93)" font-size="10.0" >Loose</text>
<text transform="translate(560.00,198.68) scale(1.0,0.93)" font-size="10.0" >LooseLH</text>
<text transform="translate(560.00,206.96) scale(1.0,0.93)" font-size="10.0" >Multilepton</text>
<text transform="translate(560.00,215.24) scale(1.0,0.93)" font-size="10.0" >Medium</text>
<text transform="translate(560.00,223.52) scale(1.0,0.93)" font-size="10.0" >MediumLH</text>
<text transform="translate(560.00,231.80) scale(1.0,0.93)" font-size="10.0" >Tight</text>
<text transform="translate(560.00,240.08) scale(1.0,0.93)" font-size="10.0" >VeryTightLH</text>
<path d="M549.6 185.9L549.6 191.3" stroke="#ff9430" stroke-width="1.2" fill="none"/>
<path d="M547.2 188.6a2.40 2.40 0 1 0 4.80 0a2.40 2.40 0 1 0 -4.80 0" fill="#ff9430"/>
<path d="M549.6 194.4L549.6 199.2" stroke="#ff0000" stroke-width="1.2" fill="none"/>
<path d="M547.4 194.6h4.4v4.4h-4.4z" fill="#ff0000"/>
<path d="M549.6 202.2L549.6 207.0" stroke="#1515e0" stroke-width="1.2" fill="none"/>
<path d="M547.6 202.8L551.6 202.8L549.6 207.0z" fill="none" stroke="#1515e0" stroke-width="1.3"/>
<path d="M549.6 211.0L549.6 215.8" stroke="#cc55dd" stroke-width="1.2" fill="none"/>
<path d="M547.4 215.7L551.8 215.7L549.6 211.1z" fill="#cc55dd"/>
<path d="M549.6 219.7L549.6 224.5" stroke="#22a8a8" stroke-width="1.2" fill="none"/>
<path d="M547.6 220.1h4.0v4.0h-4.0z" fill="none" stroke="#22a8a8" stroke-width="1.3"/>
<path d="M549.6 227.7L549.6 232.5" stroke="#10a010" stroke-width="1.2" fill="none"/>
<path d="M547.3 227.8L551.9 227.8L549.6 232.4z" fill="#10a010"/>
<path d="M549.6 236.0L549.6 240.8" stroke="#3040c0" stroke-width="1.2" fill="none"/>
<path d="M547.5 238.4a2.10 2.10 0 1 0 4.20 0a2.10 2.10 0 1 0 -4.20 0" fill="none" stroke="#111111" stroke-width="1.25"/>
</svg>
</body></html>
